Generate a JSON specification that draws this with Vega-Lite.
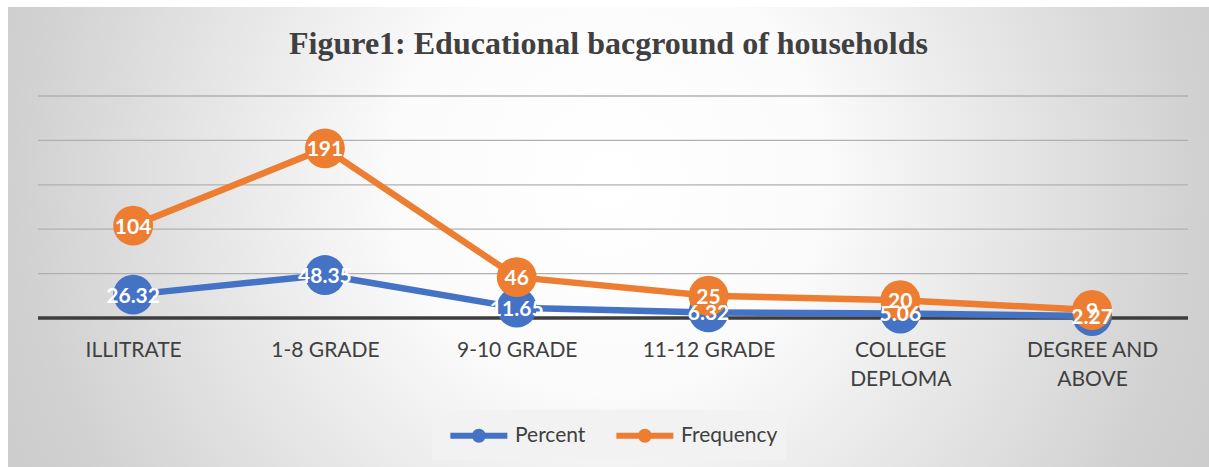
{
  "$schema": "https://vega.github.io/schema/vega-lite/v6.json",
  "autosize": {"type": "fit", "contains": "padding"},
  "width": 1209,
  "height": 467,
  "padding": {"left": 8, "top": 7, "right": 0, "bottom": 0},
  "background": "#ffffff",
  "title": {
    "text": "Figure1: Educational bacground of households",
    "font": "Liberation Serif",
    "fontSize": 32,
    "fontWeight": "bold",
    "color": "#404040",
    "anchor": "middle",
    "frame": "group",
    "baseline": "alphabetic",
    "offset": -79
  },
  "config": {
    "view": {
      "stroke": null,
      "fill": {
        "gradient": "radial",
        "x1": 0.5, "y1": 0.45, "x2": 0.5, "y2": 0.45,
        "r1": 0, "r2": 0.71,
        "stops": [
          {"offset": 0, "color": "#ffffff"},
          {"offset": 0.25, "color": "#fbfbfb"},
          {"offset": 0.7, "color": "#d0d0d0"},
          {"offset": 1, "color": "#c3c3c3"}
        ]
      }
    }
  },
  "datasets": {
    "grid": [
      {"g": 0}, {"g": 50}, {"g": 100}, {"g": 150}, {"g": 200}, {"g": 250}
    ],
    "main": [
      {"cat": "ILLITRATE", "series": "Percent", "value": 26.32, "label": "26.32"},
      {"cat": "1-8 GRADE", "series": "Percent", "value": 48.35, "label": "48.35"},
      {"cat": "9-10 GRADE", "series": "Percent", "value": 11.65, "label": "11.65"},
      {"cat": "11-12 GRADE", "series": "Percent", "value": 6.32, "label": "6.32"},
      {"cat": "COLLEGE|DEPLOMA", "series": "Percent", "value": 5.06, "label": "5.06"},
      {"cat": "DEGREE AND|ABOVE", "series": "Percent", "value": 2.27, "label": "2.27"},
      {"cat": "ILLITRATE", "series": "Frequency", "value": 104, "label": "104"},
      {"cat": "1-8 GRADE", "series": "Frequency", "value": 191, "label": "191"},
      {"cat": "9-10 GRADE", "series": "Frequency", "value": 46, "label": "46"},
      {"cat": "11-12 GRADE", "series": "Frequency", "value": 25, "label": "25"},
      {"cat": "COLLEGE|DEPLOMA", "series": "Frequency", "value": 20, "label": "20"},
      {"cat": "DEGREE AND|ABOVE", "series": "Frequency", "value": 9, "label": "9"}
    ]
  },
  "resolve": {"scale": {"x": "independent"}, "axis": {"x": "independent"}},
  "layer": [
    {
      "data": {"name": "grid"},
      "transform": [{"filter": "datum.g > 0"}],
      "mark": {"type": "rule", "color": "#b0b0b0", "strokeWidth": 1.3},
      "encoding": {
        "y": {"field": "g", "type": "quantitative", "scale": {"domain": [-167.8, 350.2], "nice": false, "zero": false}, "axis": null},
        "x": {"datum": 0, "type": "quantitative", "scale": {"domain": [-0.026087, 1.018261], "nice": false, "zero": false}, "axis": null},
        "x2": {"datum": 1}
      }
    },
    {
      "data": {"name": "grid"},
      "transform": [{"filter": "datum.g == 0"}],
      "mark": {"type": "rule", "color": "#3d3d3d", "strokeWidth": 3.5},
      "encoding": {
        "y": {"field": "g", "type": "quantitative", "scale": {"domain": [-167.8, 350.2], "nice": false, "zero": false}, "axis": null},
        "x": {"datum": 0, "type": "quantitative", "scale": {"domain": [-0.026087, 1.018261], "nice": false, "zero": false}, "axis": null},
        "x2": {"datum": 1}
      }
    },
    {
      "data": {"name": "main"},
      "encoding": {
        "x": {
          "field": "cat", "type": "nominal", "sort": null,
          "scale": {"type": "point", "padding": 0.631, "align": 0.517},
          "axis": {
            "orient": "bottom", "offset": -149, "domain": false, "ticks": false, "grid": false,
            "labelPadding": 21, "labelFont": "Lato", "labelFontSize": 21, "labelColor": "#404040",
            "labelAngle": 0, "labelLineHeight": 29, "labelBaseline": "top", "labelOverlap": false,
            "labelExpr": "split(datum.label, '|')", "title": null
          }
        },
        "y": {"field": "value", "type": "quantitative", "scale": {"domain": [-167.8, 350.2], "nice": false, "zero": false}, "axis": null},
        "color": {
          "field": "series", "type": "nominal",
          "scale": {"domain": ["Percent", "Frequency"], "range": ["#4472C4", "#ED7D31"]}
        }
      },
      "layer": [
        {
          "mark": {"type": "line", "strokeWidth": 6.5, "strokeCap": "round", "strokeJoin": "round"},
          "encoding": {
            "color": {
              "field": "series", "type": "nominal",
              "scale": {"domain": ["Percent", "Frequency"], "range": ["#4472C4", "#ED7D31"]},
              "legend": {
                "orient": "none", "legendX": 424, "legendY": 403, "direction": "horizontal",
                "title": null, "fillColor": "#f2f2f2", "padding": 8,
                "labelFont": "Lato", "labelFontSize": 21, "labelColor": "#404040",
                "symbolType": "M-0.5,0H3.5M1.78,0A0.28,0.28,0,1,1,1.22,0A0.28,0.28,0,1,1,1.78,0",
                "symbolSize": 812, "symbolStrokeWidth": 6, "labelOffset": 40, "columnPadding": 18
              }
            }
          }
        },
        {
          "mark": {"type": "circle", "size": 1590, "opacity": 1},
          "encoding": {
            "color": {
              "field": "series", "type": "nominal",
              "scale": {"domain": ["Percent", "Frequency"], "range": ["#4472C4", "#ED7D31"]},
              "legend": null
            }
          }
        },
        {
          "mark": {"type": "text", "font": "Lato", "fontWeight": "bold", "fontSize": 21, "color": "#ffffff", "baseline": "middle", "dy": 2},
          "encoding": {
            "text": {"field": "label", "type": "nominal"},
            "color": {"value": "#ffffff"}
          }
        }
      ]
    }
  ]
}
